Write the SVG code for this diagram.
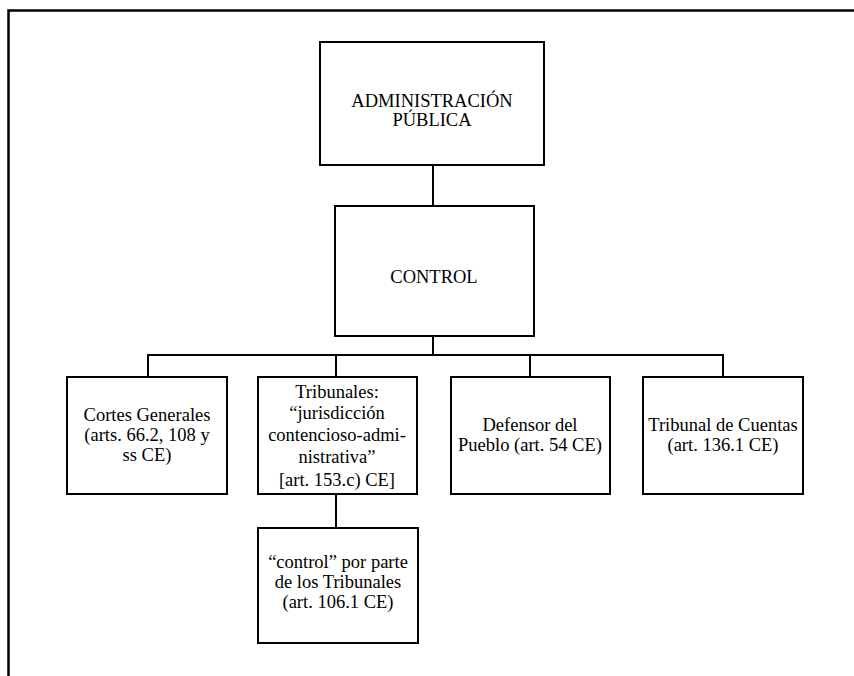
<svg xmlns="http://www.w3.org/2000/svg" width="854" height="676" viewBox="0 0 854 676">
<style>
.box{fill:#fff;stroke:#000;stroke-width:2}
.c{fill:none;stroke:#000;stroke-width:2}
</style>
<rect width="854" height="676" fill="#fff"/>
<path d="M8.5 676 V10.5 H854" fill="none" stroke="#000" stroke-width="2.5"/>
<g id="connectors">
<path class="c" d="M433 165 V206"/>
<path class="c" d="M433 336 V355"/>
<path class="c" d="M148 377 V355 H723 V377"/>
<path class="c" d="M336 355 V377"/>
<path class="c" d="M530 355 V377"/>
<path class="c" d="M336 494 V528"/>
</g>
<g font-family="Liberation Serif, DejaVu Serif, serif" font-size="18.5" text-anchor="middle" fill="#000">
<g id="admin">
<rect class="box" x="320" y="42" width="224" height="123"/>
<text x="432" y="107">ADMINISTRACIÓN</text>
<text x="432" y="126">PÚBLICA</text>
</g>
<g id="control">
<rect class="box" x="335" y="206" width="199" height="130"/>
<text x="434" y="283">CONTROL</text>
</g>
<g id="cortes">
<rect class="box" x="67" y="377" width="160" height="117"/>
<text x="147" y="421">Cortes Generales</text>
<text x="147" y="441">(arts. 66.2, 108 y</text>
<text x="147" y="461">ss CE)</text>
</g>
<g id="tribunales">
<rect class="box" x="258" y="377" width="159" height="117"/>
<text x="337" y="398">Tribunales:</text>
<text x="337" y="419">“jurisdicción</text>
<text x="337" y="441">contencioso-admi-</text>
<text x="337" y="463">nistrativa”</text>
<text x="337" y="486">[art. 153.c) CE]</text>
</g>
<g id="defensor">
<rect class="box" x="451" y="377" width="159" height="117"/>
<text x="530" y="431">Defensor del</text>
<text x="530" y="451">Pueblo (art. 54 CE)</text>
</g>
<g id="cuentas">
<rect class="box" x="643" y="377" width="160" height="117"/>
<text x="723" y="431">Tribunal de Cuentas</text>
<text x="723" y="451">(art. 136.1 CE)</text>
</g>
<g id="controlTribunales">
<rect class="box" x="258" y="528" width="160" height="115"/>
<text x="338" y="568">“control” por parte</text>
<text x="338" y="588">de los Tribunales</text>
<text x="338" y="608">(art. 106.1 CE)</text>
</g>
</g>
</svg>
